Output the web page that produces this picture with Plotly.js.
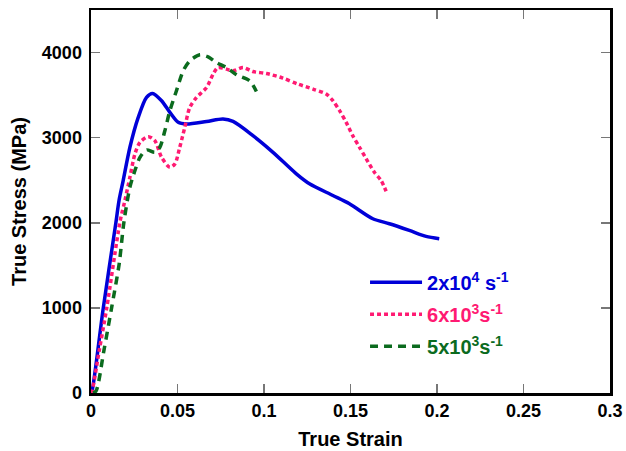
<!DOCTYPE html>
<html>
<head>
<meta charset="utf-8">
<script src="https://cdn.plot.ly/plotly-3.0.1.min.js"></script>
<style>html,body{margin:0;padding:0;background:#fff;}#chart{width:626px;height:451px;}</style>
</head>
<body>
<div id="chart"></div>
<script>
// Strain-rate 2x10^4 s^-1
const strainA = [0, 0.0006, 0.0071, 0.0144, 0.0162, 0.0186, 0.0225, 0.0273, 0.0321, 0.0356, 0.0408, 0.0456, 0.0504, 0.0552, 0.0668, 0.0763, 0.0821, 0.0936, 0.1052, 0.1187, 0.1263, 0.1398, 0.1494, 0.1629, 0.1725, 0.1840, 0.1937, 0.2013];
const stressA = [0, 23, 1000, 2004, 2262, 2496, 2887, 3238, 3473, 3520, 3434, 3297, 3180, 3161, 3191, 3220, 3191, 3024, 2828, 2575, 2458, 2321, 2223, 2047, 1989, 1910, 1840, 1813];
// Strain-rate 6x10^3 s^-1
const strainB = [0, 0.0006, 0.0048, 0.0091, 0.0167, 0.0196, 0.0225, 0.0254, 0.0283, 0.0331, 0.0369, 0.0408, 0.0456, 0.0485, 0.0513, 0.0542, 0.0571, 0.0610, 0.0668, 0.0706, 0.0734, 0.0783, 0.0821, 0.0879, 0.0936, 0.1014, 0.1109, 0.1196, 0.1283, 0.1360, 0.1398, 0.1437, 0.1475, 0.1513, 0.1552, 0.1591, 0.1638, 0.1677, 0.1706];
const stressB = [0, 23, 504, 1000, 2004, 2262, 2535, 2809, 2945, 3012, 2965, 2769, 2652, 2692, 2887, 3121, 3355, 3473, 3590, 3747, 3824, 3805, 3786, 3824, 3777, 3754, 3700, 3630, 3571, 3512, 3434, 3317, 3180, 3024, 2887, 2751, 2594, 2496, 2371];
// Strain-rate 5x10^3 s^-1
const strainC = [0.0012, 0.0029, 0.0075, 0.0119, 0.0163, 0.0190, 0.0225, 0.0254, 0.0283, 0.0321, 0.0369, 0.0398, 0.0427, 0.0456, 0.0494, 0.0533, 0.0571, 0.0629, 0.0677, 0.0725, 0.0783, 0.0841, 0.0917, 0.0956];
const stressC = [0, 23, 504, 1000, 1520, 2004, 2418, 2614, 2769, 2856, 2828, 2887, 3082, 3317, 3551, 3786, 3903, 3973, 3950, 3883, 3824, 3739, 3668, 3543];

const xTicks = [0, 0.05, 0.1, 0.15, 0.2, 0.25, 0.3];
const xTickText = ['0', '0.05', '0.1', '0.15', '0.2', '0.25', '0.3'];
const yTicks = [0, 1000, 2000, 3000, 4000];
const yTickText = ['0', '1000', '2000', '3000', '4000'];

const seriesNames = [
  '<span style="color:#0000d8">2x10<sup>4</sup> s<sup>-1</sup></span>',
  '<span style="color:#ff1a72">6x10<sup>3</sup>s<sup>-1</sup></span>',
  '<span style="color:#0b6b1e">5x10<sup>3</sup>s<sup>-1</sup></span>'
];

const FONT = 'Liberation Sans, Arial, Helvetica, sans-serif';

const traces = [
  {x: strainA, y: stressA, name: seriesNames[0], legendgroup: 'a', mode: 'lines',
   line: {color: '#0000d8', width: 3.5, shape: 'spline', smoothing: 0.8}},
  {x: strainB, y: stressB, name: seriesNames[1], legendgroup: 'b', mode: 'lines',
   line: {color: '#ff1a72', width: 3.5, dash: '4px,3px', shape: 'spline', smoothing: 0.8}},
  {x: strainC, y: stressC, name: seriesNames[2], legendgroup: 'c', mode: 'lines',
   line: {color: '#0b6b1e', width: 3.5, dash: '8px,6px', shape: 'spline', smoothing: 0.8}}
];

const axisCommon = {
  showgrid: false, zeroline: false,
  showline: true, linecolor: '#000', linewidth: 2.5, mirror: 'allticks',
  ticks: 'inside', ticklen: 9, tickwidth: 1.5, tickcolor: '#777',
  tickfont: {family: FONT, size: 18, color: '#000', weight: 'bold'}
};

const layout = {
  width: 626, height: 451,
  margin: {l: 91, r: 16, t: 10, b: 58},
  paper_bgcolor: '#fff', plot_bgcolor: '#fff',
  font: {family: FONT, color: '#000'},
  showlegend: true,
  legend: {
    x: 0.528, y: 0.34, xanchor: 'left', yanchor: 'top',
    bgcolor: 'rgba(0,0,0,0)', borderwidth: 0,
    font: {family: FONT, size: 20, weight: 'bold'},
    itemwidth: 52, tracegroupgap: 3
  },
  xaxis: Object.assign({}, axisCommon, {
    range: [0, 0.3], tickvals: xTicks, ticktext: xTickText,
    title: {text: 'True Strain', font: {family: FONT, size: 20, weight: 'bold'}, standoff: 12}
  }),
  yaxis: Object.assign({}, axisCommon, {
    range: [0, 4500], tickvals: yTicks, ticktext: yTickText, ticklabelstandoff: 3,
    title: {text: 'True Stress (MPa)', font: {family: FONT, size: 20, weight: 'bold'}, standoff: 10}
  })
};

Plotly.newPlot('chart', traces, layout, {displayModeBar: false, staticPlot: true});
</script>
</body>
</html>
